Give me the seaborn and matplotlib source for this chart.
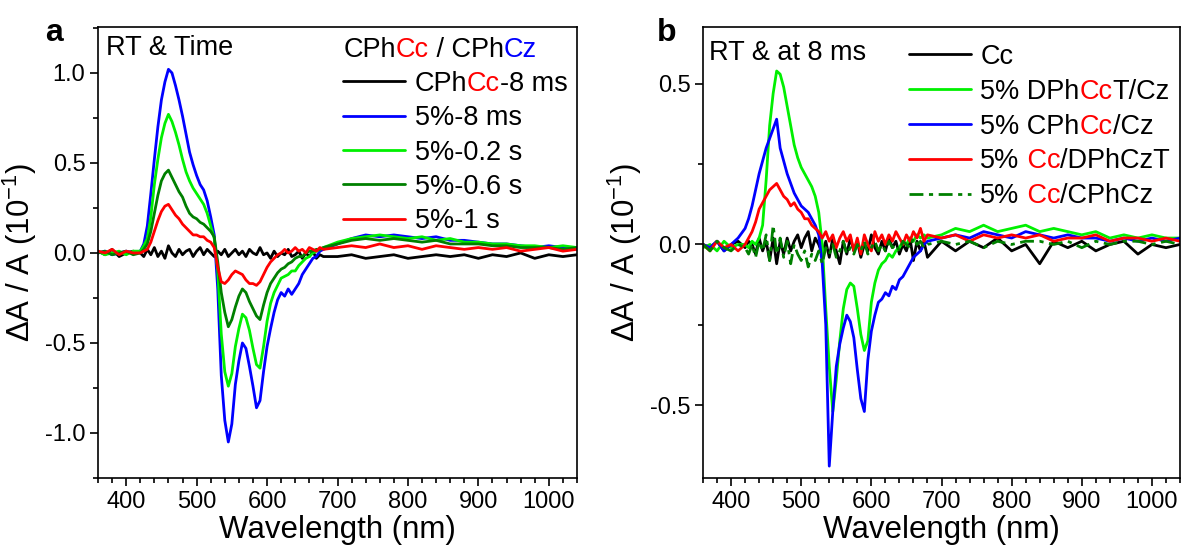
import numpy as np
import pandas as pd
import matplotlib
matplotlib.use("Agg")
import matplotlib.pyplot as plt
import seaborn as sns
from matplotlib.ticker import MultipleLocator, FormatStrFormatter

# ---------------- data (values in units of 10^-1) ----------------
wavelength = np.concatenate([np.arange(360, 420, 10),
                             np.arange(420, 685, 5),
                             np.arange(700, 1041, 20)])

# Panel a : CPhCc / CPhCz, RT & time
a_cphcc_8ms = [
    0.01, -0.01, 0.02, -0.02, 0.00, 0.01,
    0.00, -0.02, 0.02, -0.01, 0.03, -0.02, 0.01, -0.03, 0.04, 0.00,
    -0.02, 0.02, -0.01, 0.01, 0.02, -0.02, 0.01, 0.03, -0.01, 0.02,
    0.00, -0.02, 0.01, -0.01, 0.02, -0.02, 0.00, 0.02, -0.01, 0.01,
    -0.02, 0.02, 0.00, -0.01, 0.03, -0.01, 0.00, -0.03, 0.01, -0.02,
    0.00, -0.01, 0.02, -0.02, -0.01, 0.01, -0.03, 0.00, -0.02, 0.01,
    -0.03, -0.01, -0.02,
    -0.02, -0.01, -0.03, -0.02, -0.01, -0.03, -0.02, -0.01, -0.02,
    -0.01, -0.03, -0.01, -0.02, 0.00, -0.03, -0.01, -0.02, -0.01,
]
a_5pct_8ms = [
    0.00, 0.01, -0.01, 0.00, 0.01, 0.00,
    0.01, 0.05, 0.15, 0.33, 0.52, 0.70, 0.85, 0.95, 1.02, 1.00,
    0.93, 0.85, 0.76, 0.66, 0.56, 0.49, 0.43, 0.38, 0.35, 0.29,
    0.20, 0.10, -0.20, -0.68, -0.93, -1.05, -0.95, -0.73, -0.60, -0.50,
    -0.53, -0.63, -0.74, -0.86, -0.82, -0.66, -0.52, -0.42, -0.33, -0.26,
    -0.22, -0.24, -0.20, -0.23, -0.20, -0.17, -0.12, -0.09, -0.06, -0.03,
    -0.02, 0.01, 0.02,
    0.05, 0.08, 0.10, 0.09, 0.10, 0.09, 0.08, 0.09, 0.07,
    0.07, 0.06, 0.05, 0.05, 0.04, 0.03, 0.04, 0.03, 0.03,
]
a_5pct_02s = [
    0.01, -0.01, 0.00, 0.01, -0.01, 0.01,
    0.01, 0.04, 0.08, 0.20, 0.38, 0.52, 0.64, 0.72, 0.77, 0.73,
    0.67, 0.60, 0.52, 0.45, 0.40, 0.36, 0.33, 0.30, 0.27, 0.22,
    0.15, 0.08, -0.10, -0.45, -0.66, -0.74, -0.67, -0.52, -0.42, -0.34,
    -0.36, -0.43, -0.53, -0.62, -0.64, -0.52, -0.38, -0.28, -0.22, -0.18,
    -0.14, -0.13, -0.12, -0.10, -0.10, -0.07, -0.05, -0.03, -0.02, 0.00,
    0.01, 0.02, 0.03,
    0.06, 0.08, 0.09, 0.10, 0.09, 0.08, 0.09, 0.07, 0.08,
    0.06, 0.06, 0.05, 0.05, 0.04, 0.04, 0.03, 0.04, 0.03,
]
a_5pct_06s = [
    0.00, 0.01, -0.01, 0.00, 0.01, -0.01,
    0.00, 0.02, 0.05, 0.12, 0.22, 0.32, 0.40, 0.44, 0.46, 0.42,
    0.38, 0.34, 0.31, 0.26, 0.22, 0.20, 0.19, 0.17, 0.16, 0.14,
    0.12, 0.09, -0.05, -0.22, -0.33, -0.41, -0.37, -0.30, -0.24, -0.20,
    -0.22, -0.27, -0.31, -0.35, -0.37, -0.29, -0.22, -0.17, -0.14, -0.11,
    -0.09, -0.08, -0.06, -0.05, -0.03, -0.02, -0.02, 0.00, 0.01, 0.01,
    0.02, 0.02, 0.03,
    0.05, 0.07, 0.08, 0.07, 0.08, 0.07, 0.06, 0.07, 0.05,
    0.05, 0.05, 0.04, 0.04, 0.03, 0.03, 0.03, 0.02, 0.03,
]
a_5pct_1s = [
    0.01, 0.00, 0.02, -0.01, 0.01, 0.00,
    0.00, 0.01, 0.02, 0.06, 0.12, 0.18, 0.23, 0.26, 0.27, 0.24,
    0.21, 0.19, 0.16, 0.14, 0.12, 0.10, 0.10, 0.09, 0.09, 0.07,
    0.06, 0.03, -0.08, -0.16, -0.17, -0.15, -0.12, -0.10, -0.11, -0.12,
    -0.15, -0.17, -0.17, -0.18, -0.16, -0.12, -0.08, -0.05, -0.03, -0.01,
    0.00, 0.02, 0.00, 0.01, 0.03, 0.01, 0.02, 0.00, 0.03, 0.02,
    0.01, 0.03, 0.02,
    0.03, 0.04, 0.03, 0.05, 0.03, 0.04, 0.02, 0.04, 0.03,
    0.02, 0.03, 0.02, 0.03, 0.01, 0.02, 0.03, 0.01, 0.02,
]

# Panel b : RT & at 8 ms
b_cc = [
    0.00, -0.01, 0.01, -0.02, 0.00, 0.01,
    -0.01, 0.01, 0.00, -0.03, 0.02, -0.02, 0.01, -0.05, 0.02, -0.06,
    0.01, -0.03, 0.02, -0.02, 0.01, 0.03, -0.01, 0.02, 0.04, -0.02,
    0.02, 0.00, -0.03, 0.01, -0.04, 0.02, -0.02, -0.06, 0.01, -0.03,
    0.02, -0.02, 0.01, -0.04, 0.00, -0.02, 0.03, -0.01, -0.03, 0.01,
    -0.02, 0.02, -0.01, 0.01, -0.03, 0.00, -0.02, 0.02, -0.05, 0.01,
    -0.02, 0.01, -0.04,
    0.01, -0.02, 0.01, -0.01, 0.02, -0.02, 0.00, -0.06, 0.01,
    -0.01, 0.01, -0.02, 0.00, 0.01, -0.03, 0.00, -0.01, 0.00,
]
b_dphcct_cz = [
    -0.01, 0.00, -0.02, 0.01, -0.01, 0.00,
    0.00, -0.01, 0.01, 0.00, 0.02, 0.06, 0.20, 0.37, 0.47, 0.54,
    0.53, 0.49, 0.43, 0.37, 0.31, 0.27, 0.24, 0.22, 0.20, 0.18,
    0.15, 0.10, 0.00, -0.20, -0.38, -0.52, -0.42, -0.30, -0.20, -0.14,
    -0.12, -0.13, -0.20, -0.28, -0.33, -0.30, -0.18, -0.12, -0.08, -0.06,
    -0.05, -0.03, -0.04, -0.02, -0.01, 0.01, 0.00, 0.02, 0.01, 0.03,
    0.02, 0.03, 0.02,
    0.03, 0.05, 0.04, 0.06, 0.04, 0.05, 0.06, 0.04, 0.05,
    0.04, 0.03, 0.04, 0.02, 0.03, 0.02, 0.03, 0.02, 0.02,
]
b_cphcc_cz = [
    0.00, -0.01, 0.01, -0.02, 0.00, 0.02,
    0.05, 0.08, 0.12, 0.17, 0.22, 0.26, 0.30, 0.33, 0.36, 0.39,
    0.30, 0.26, 0.22, 0.19, 0.16, 0.14, 0.12, 0.11, 0.10, 0.08,
    0.06, 0.03, -0.06, -0.25, -0.69, -0.52, -0.38, -0.31, -0.26, -0.22,
    -0.24, -0.29, -0.39, -0.48, -0.52, -0.36, -0.27, -0.22, -0.18, -0.17,
    -0.15, -0.16, -0.13, -0.14, -0.11, -0.10, -0.08, -0.06, -0.04, -0.03,
    -0.02, 0.00, 0.01,
    0.02, 0.03, 0.02, 0.04, 0.03, 0.02, 0.04, 0.03, 0.02,
    0.03, 0.02, 0.02, 0.01, 0.02, 0.01, 0.02, 0.01, 0.02,
]
b_cc_dphczt = [
    0.00, -0.02, 0.01, -0.01, 0.00, -0.02,
    0.00, 0.02, 0.04, 0.07, 0.11, 0.13, 0.15, 0.17, 0.18, 0.19,
    0.17, 0.15, 0.14, 0.12, 0.13, 0.11, 0.10, 0.08, 0.08, 0.06,
    0.05, 0.04, 0.02, 0.04, 0.01, 0.03, -0.01, 0.02, 0.04, 0.01,
    0.03, -0.02, 0.02, -0.03, 0.03, 0.00, -0.02, 0.04, 0.01, 0.03,
    0.00, 0.03, 0.01, 0.04, 0.02, 0.00, 0.03, 0.01, 0.04, 0.02,
    0.05, 0.01, 0.03,
    0.02, 0.03, 0.01, 0.03, 0.02, 0.03, 0.02, 0.03, 0.01,
    0.02, 0.02, 0.03, 0.01, 0.02, 0.02, 0.01, 0.02, 0.01,
]
b_cc_cphcz = [
    0.00, -0.02, 0.01, -0.01, -0.02, 0.00,
    -0.01, -0.03, 0.00, -0.04, 0.01, -0.02, 0.03, -0.05, 0.06, -0.03,
    0.02, -0.04, 0.01, -0.06, 0.00, -0.03, -0.05, -0.02, -0.07, -0.03,
    -0.05, -0.02, -0.06, -0.01, -0.03, 0.00, -0.04, -0.02, 0.01, -0.03,
    -0.01, -0.03, 0.00, -0.02, 0.01, -0.03, -0.01, 0.01, -0.02, 0.00,
    -0.02, 0.01, -0.01, 0.00, -0.02, 0.01, 0.00, -0.01, 0.02, 0.00,
    0.01, -0.01, 0.00,
    0.01, 0.00, 0.01, -0.01, 0.01, 0.00, 0.01, 0.01, 0.00,
    0.01, -0.01, 0.01, 0.00, 0.01, 0.01, 0.00, 0.01, 0.00,
]

# legend texts (pieces with colours)
legend_a = [
    [("CPh", "black"), ("Cc", "red"), ("-8 ms", "black")],
    [("5%-8 ms", "black")],
    [("5%-0.2 s", "black")],
    [("5%-0.6 s", "black")],
    [("5%-1 s", "black")],
]
legend_b = [
    [("Cc", "black")],
    [("5% DPh", "black"), ("Cc", "red"), ("T/Cz", "black")],
    [("5% CPh", "black"), ("Cc", "red"), ("/Cz", "black")],
    [("5%", "black"), (" Cc", "red"), ("/DPhCzT", "black")],
    [("5%", "black"), (" Cc", "red"), ("/CPhCz", "black")],
]
header_a = [("CPh", "black"), ("Cc", "red"), (" / CPh", "black"), ("Cz", "blue")]

# ---------------- style ----------------
sns.set_style("ticks")
plt.rcParams["font.family"] = ["Liberation Sans", "DejaVu Sans"]
plt.rcParams["mathtext.fontset"] = "custom"
plt.rcParams["mathtext.rm"] = "Liberation Sans"
plt.rcParams["mathtext.it"] = "Liberation Sans:italic"
plt.rcParams["mathtext.bf"] = "Liberation Sans:bold"
plt.rcParams["axes.unicode_minus"] = False
for k in ["text.color", "axes.labelcolor", "xtick.color", "ytick.color",
          "xtick.labelcolor", "ytick.labelcolor", "axes.edgecolor"]:
    plt.rcParams[k] = "black"

W, H = 1184, 549
fig = plt.figure(figsize=(W / 100, H / 100), dpi=100)
ax_a = fig.add_axes([98 / W, 1 - 478 / H, (577 - 98) / W, (478 - 27) / H])
ax_b = fig.add_axes([703 / W, 1 - 478 / H, (1180 - 703) / W, (478 - 27) / H])

LW = 2.0
TICK_FS = 17
TXT_FS = 19.5
LAB_FS = 22.5

series_a = [
    (a_cphcc_8ms, "#000000", "-"),
    (a_5pct_8ms, "#0000FF", "-"),
    (a_5pct_02s, "#00F000", "-"),
    (a_5pct_06s, "#008000", "-"),
    (a_5pct_1s, "#FF0000", "-"),
]
series_b = [
    (b_cc, "#000000", "-"),
    (b_dphcct_cz, "#00F000", "-"),
    (b_cphcc_cz, "#0000FF", "-"),
    (b_cc_dphczt, "#FF0000", "-"),
    (b_cc_cphcz, "#008000", (0, (5, 2, 1.5, 2))),
]


def draw(ax, series):
    handles = []
    for vals, col, ls in series:
        df = pd.DataFrame({"wl": wavelength, "v": vals})
        sns.lineplot(data=df, x="wl", y="v", ax=ax, color=col, linewidth=LW,
                     linestyle=ls, estimator=None, sort=False, legend=False)
        handles.append(ax.lines[-1])
    return handles


def style_axes(ax, ylim, ymaj, ymin):
    ax.set_xlim(360, 1040)
    ax.set_ylim(*ylim)
    ax.xaxis.set_major_locator(MultipleLocator(100))
    ax.xaxis.set_minor_locator(MultipleLocator(20))
    ax.yaxis.set_major_locator(MultipleLocator(ymaj))
    ax.yaxis.set_minor_locator(MultipleLocator(ymin))
    ax.yaxis.set_major_formatter(FormatStrFormatter("%.1f"))
    ax.tick_params(which="both", direction="out", width=1.2, top=False, right=False,
                   labelsize=TICK_FS, pad=3, colors="black")
    ax.tick_params(which="major", length=6)
    ax.tick_params(which="minor", length=3.5)
    for s in ax.spines.values():
        s.set_visible(True)
        s.set_linewidth(1.2)
        s.set_color("black")
    ax.set_xlabel("Wavelength (nm)", fontsize=LAB_FS, labelpad=2, color="black")
    ax.set_ylabel("ΔA / A (10$^{-1}$)", fontsize=LAB_FS, labelpad=4, color="black")


def rich_chain(ax, first, pieces):
    prev = first
    for piece, col in pieces:
        prev = ax.annotate(piece, xy=(1, 0), xycoords=prev, va="bottom", ha="left",
                           color=col, fontsize=TXT_FS, zorder=10, annotation_clip=False)


def rich_legend(ax, handles, entries, anchor, spacing):
    leg = ax.legend(handles, [e[0][0] for e in entries], loc="upper left",
                    bbox_to_anchor=anchor, frameon=False, fontsize=TXT_FS,
                    handlelength=2.3, handletextpad=0.35, labelspacing=spacing,
                    borderpad=0, borderaxespad=0)
    for txt, entry in zip(leg.get_texts(), entries):
        txt.set_color(entry[0][1])
        rich_chain(ax, txt, entry[1:])
    return leg


# ---------------- panel a ----------------
ha = draw(ax_a, series_a)
style_axes(ax_a, (-1.25, 1.255), 0.5, 0.25)
ax_a.text(0.016, 0.953, "RT & Time", transform=ax_a.transAxes, va="center",
          ha="left", fontsize=TXT_FS)
t0 = ax_a.text(0.512, 0.948, header_a[0][0], transform=ax_a.transAxes, va="center",
               ha="left", fontsize=TXT_FS, color=header_a[0][1])
rich_chain(ax_a, t0, header_a[1:])
rich_legend(ax_a, ha, legend_a, (0.511, 0.903), 0.31)

# ---------------- panel b ----------------
hb = draw(ax_b, series_b)
style_axes(ax_b, (-0.727, 0.677), 0.5, 0.25)
ax_b.text(0.013, 0.943, "RT & at 8 ms", transform=ax_b.transAxes, va="center",
          ha="left", fontsize=TXT_FS)
rich_legend(ax_b, hb, legend_b, (0.431, 0.963), 0.33)

fig.text(54 / W, 1 - 33 / H, "a", fontsize=23, fontweight="bold", ha="center", va="center")
fig.text(667 / W, 1 - 33 / H, "b", fontsize=23, fontweight="bold", ha="center", va="center")

fig.savefig("out.png", dpi=100)
